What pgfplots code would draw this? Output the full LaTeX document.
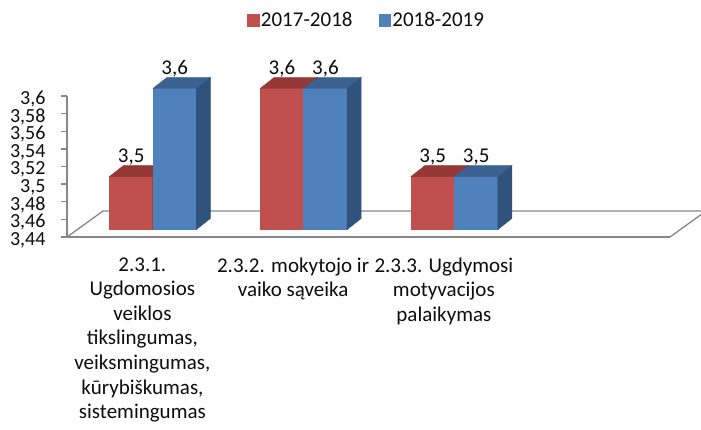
\documentclass[border=0pt]{standalone}
\usepackage{fontspec}
\setmainfont{Carlito}
\usepackage{pgfplots}
\pgfplotsset{compat=1.18}
\usepackage{pgfplotstable}
\definecolor{cred}{HTML}{C0504D}
\definecolor{credtop}{HTML}{953735}
\definecolor{credside}{HTML}{7E2E2C}
\definecolor{cblue}{HTML}{4F81BD}
\definecolor{cbluetop}{HTML}{3B6190}
\definecolor{cblueside}{HTML}{30527C}
\definecolor{axgray}{HTML}{878787}
\definecolor{txt}{HTML}{0D0D0D}
\newcommand\lab{\fontsize{21bp}{24.6bp}\selectfont}
\newcommand\ylab{\fontsize{20bp}{20bp}\selectfont}
\pgfdeclareplotmark{nothing}{}
\pgfplotstableread{
cat v2017 v2018
0.5 3.5 3.6
1.5 3.6 3.6
2.5 3.5 3.5
}\datatab
\pgfplotsset{
 bar3d/.style n args={4}{
   only marks, mark=nothing, scatter, forget plot,
   visualization depends on={rawy \as \rawy},
   scatter/@pre marker code/.code={%
     \pgfmathsetmacro\hh{(\rawy-3.44)*881.25}%
     \fill[#1] (#4bp,7.5bp-\hh bp) rectangle (#4bp+43.5bp,7.5bp);
     \fill[#2] (#4bp,7.5bp) -- ++(43.5bp,0bp) -- ++(14bp,11bp) -- ++(-43.5bp,0bp) -- cycle;
     \fill[#3] (#4bp+43.5bp,7.5bp) -- ++(14bp,11bp) -- ++(0bp,-\hh bp) -- ++(-14bp,-11bp) -- cycle;
     \node[font=\lab, text=txt, inner sep=0pt] at (#4bp+21.75bp,27bp) {\pgfmathprintnumber[fixed,precision=1,use comma,assume math mode=true]{\rawy}};
   },
   scatter/@post marker code/.code={},
 }
}
\begin{document}
\begin{tikzpicture}
\path[use as bounding box] (0,0) rectangle (701bp,430bp);
\begin{axis}[
  at={(67bp,193bp)}, anchor=south west,
  x=150.75bp, y=881.25bp,
  xmin=0, xmax=4, ymin=3.44, ymax=3.6,
  clip=false,
  axis x line*=bottom, axis y line*=left,
  axis line style={axgray, line width=1.3bp},
  xtick={0.5,1.5,2.5},
  xticklabels={{2.3.1.\\Ugdomosios\\veiklos\\tikslingumas,\\veiksmingumas,\\kūrybiškumas,\\sistemingumas},{2.3.2. mokytojo ir\\vaiko sąveika},{2.3.3. Ugdymosi\\motyvacijos\\palaikymas}},
  major x tick style={draw=none},
  x tick label style={align=center, font=\lab, text=txt, anchor=north, yshift=-11bp},
  ytick={3.44,3.46,3.48,3.5,3.52,3.54,3.56,3.58,3.6},
  ytick pos=left, tick align=outside,
  major tick length=6bp,
  major y tick style={axgray, line width=1.3bp},
  y tick label style={font=\ylab, text=txt, inner ysep=0pt, xshift=-12bp, yshift=-3bp, /pgf/number format/.cd, use comma, fixed, precision=2, assume math mode=true},
  legend style={at={(0.4967,1.539)}, anchor=center, draw=none, fill=none, font=\lab, text=txt, legend columns=2, /tikz/every even column/.append style={column sep=24bp}},
  legend cell align=left,
]
\addlegendimage{legend image code/.code={\fill[cred] (0bp,-6bp) rectangle (11.5bp,6bp);}}
\addlegendentry{2017-2018}
\addlegendimage{legend image code/.code={\fill[cblue] (0bp,-6bp) rectangle (11.5bp,6bp);}}
\addlegendentry{2018-2019}
\draw[axgray, line width=1.3bp] (axis cs:0,3.44) -- ++(36bp,26bp) -- ++(603bp,0bp) -- ++(-36bp,-26bp);
\addplot[bar3d={cred}{credtop}{credside}{-33}] table[x=cat,y=v2017]{\datatab};
\addplot[bar3d={cblue}{cbluetop}{cblueside}{10.5}] table[x=cat,y=v2018]{\datatab};
\end{axis}
\end{tikzpicture}
\end{document}
